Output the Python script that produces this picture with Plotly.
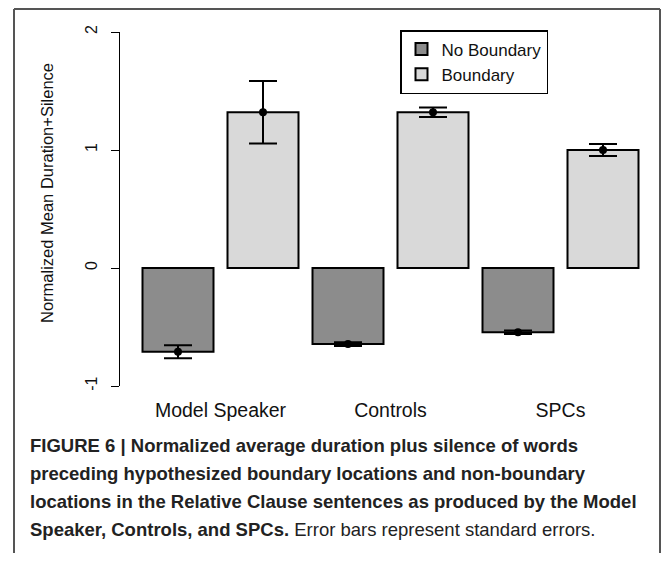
import plotly.graph_objects as go

# ---------------- data ----------------
groups = ["Model Speaker", "Controls", "SPCs"]
series_names = ["No Boundary", "Boundary"]
no_boundary_mean = [-0.71, -0.645, -0.545]
no_boundary_se = [0.055, 0.015, 0.015]
boundary_mean = [1.32, 1.32, 1.00]
boundary_se = [0.265, 0.04, 0.05]
y_ticks = [-1, 0, 1, 2]
y_title = "Normalized Mean Duration+Silence"
caption_lines = [
    "<b>FIGURE 6 | Normalized average duration plus silence of words</b>",
    "<b>preceding hypothesized boundary locations and non-boundary</b>",
    "<b>locations in the Relative Clause sentences as produced by the Model</b>",
    "<b>Speaker, Controls, and SPCs.</b> Error bars represent standard errors.",
]

# ---------------- layout constants (pixels, in page coords) ----------------
OFF = 8  # default body margin of the html page (both sides)
W, H = 670 - 2 * OFF, 561 - 2 * OFF
L, R, T, B = 120, 650, 32, 386
PX_PER_GROUP = 170.0
X0 = -100.5 / PX_PER_GROUP


def px_x(px):
    return (px - L) / (R - L)


def px_y(py):
    return (B - py) / (B - T)


FONT = "Liberation Sans, Arial, Helvetica, sans-serif"
DARK = "#8c8c8c"
LIGHT = "#d9d9d9"

gi = list(range(len(groups)))
x_nb = [g - 0.25 for g in gi]
x_b = [g + 0.25 for g in gi]
bar_w = 71 / PX_PER_GROUP

fig = go.Figure()
fig.add_trace(go.Bar(x=x_nb, y=no_boundary_mean, width=bar_w, name=series_names[0],
                     marker=dict(color=DARK, line=dict(color="black", width=2))))
fig.add_trace(go.Bar(x=x_b, y=boundary_mean, width=bar_w, name=series_names[1],
                     marker=dict(color=LIGHT, line=dict(color="black", width=2))))
for xs, ms, ses in [(x_nb, no_boundary_mean, no_boundary_se), (x_b, boundary_mean, boundary_se)]:
    fig.add_trace(go.Scatter(x=xs, y=ms, mode="markers", showlegend=False,
                             marker=dict(color="black", size=8, symbol="circle"),
                             error_y=dict(type="data", array=ses, visible=True,
                                          color="black", thickness=2, width=14)))

# outer frame (open at the bottom: it runs off the page)
fx0, fx1, fy_top, fy_bot = px_x(14), px_x(660), px_y(9), px_y(H + OFF)
frame_line = dict(color="#555555", width=2)
fig.add_shape(type="line", xref="paper", yref="paper", x0=fx0, x1=fx0, y0=fy_bot, y1=fy_top,
              line=frame_line, layer="below")
fig.add_shape(type="line", xref="paper", yref="paper", x0=fx1, x1=fx1, y0=fy_bot, y1=fy_top,
              line=frame_line, layer="below")
fig.add_shape(type="line", xref="paper", yref="paper", x0=fx0, x1=fx1, y0=fy_top, y1=fy_top,
              line=frame_line, layer="below")

# y axis title
fig.add_annotation(text=y_title, xref="paper", yref="paper", x=px_x(47), y=px_y(193),
                   textangle=-90, showarrow=False, xanchor="center", yanchor="middle",
                   font=dict(size=16.5, color="#111111", family=FONT))

# caption
for i, line in enumerate(caption_lines):
    fig.add_annotation(text=line, xref="paper", yref="paper", x=px_x(28), y=px_y(445 + 28 * i),
                       showarrow=False, xanchor="left", yanchor="middle", align="left",
                       font=dict(size=18.5, color="#222222", family=FONT))

fig.update_layout(
    width=W, height=H,
    margin=dict(l=L - OFF, r=W - (R - OFF), t=T - OFF, b=H - (B - OFF), pad=0),
    paper_bgcolor="white", plot_bgcolor="white",
    barmode="overlay",
    font=dict(family=FONT, color="#111111"),
    showlegend=True,
    legend=dict(x=px_x(400), y=px_y(30), xanchor="left", yanchor="top",
                bordercolor="black", borderwidth=1.5, bgcolor="white",
                font=dict(size=17, family=FONT, color="#111111"),
                traceorder="normal"),
    xaxis=dict(range=[X0, X0 + (R - L) / PX_PER_GROUP], tickvals=gi, ticktext=groups,
               showline=False, zeroline=False, showgrid=False, ticks="",
               ticklabelstandoff=10,
               tickfont=dict(size=19.5, family=FONT, color="#111111")),
    yaxis=dict(range=[-1, 2], tickvals=y_ticks, ticktext=[str(v) for v in y_ticks],
               showline=True, linecolor="black", linewidth=1, ticks="outside", ticklen=8,
               tickcolor="black", tickwidth=1, zeroline=False, showgrid=False,
               ticklabelstandoff=8,
               tickangle=-90, tickfont=dict(size=16, family=FONT, color="#111111")),
)

fig.write_html("out.html")
